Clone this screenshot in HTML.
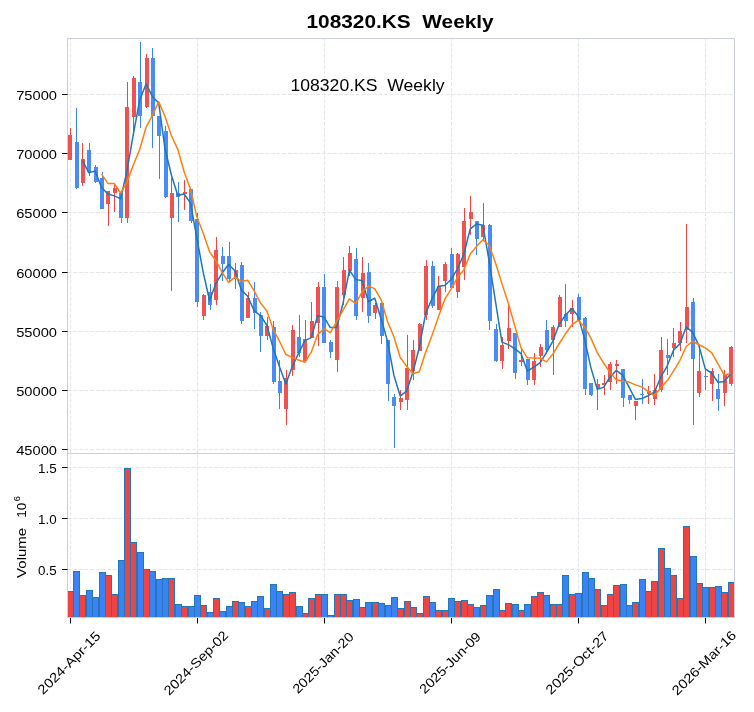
<!DOCTYPE html>
<html><head><meta charset="utf-8"><title>108320.KS Weekly</title>
<style>html,body{margin:0;padding:0;background:#fff;}body{width:754px;height:712px;overflow:hidden;font-family:"Liberation Sans",sans-serif;}</style>
</head><body>
<svg width="754" height="712" viewBox="0 0 754 712" style="display:block;will-change:transform;transform:translateZ(0)" font-family='"Liberation Sans", sans-serif'>
<rect x="0" y="0" width="754" height="712" fill="#ffffff"/>
<defs><clipPath id="cp"><rect x="67.5" y="38.5" width="667.0" height="415.0"/></clipPath><clipPath id="cv"><rect x="67.5" y="453.5" width="667.0" height="164.0"/></clipPath></defs>
<path d="M67.5 94.5H734.5 M67.5 153.5H734.5 M67.5 212.5H734.5 M67.5 272.5H734.5 M67.5 331.5H734.5 M67.5 390.5H734.5 M67.5 449.5H734.5 M67.5 467.5H734.5 M67.5 518.5H734.5 M67.5 569.5H734.5 M70.5 453.5V38.5 M70.5 617.5V453.5 M197.5 453.5V38.5 M197.5 617.5V453.5 M324.5 453.5V38.5 M324.5 617.5V453.5 M451.5 453.5V38.5 M451.5 617.5V453.5 M578.5 453.5V38.5 M578.5 617.5V453.5 M705.5 453.5V38.5 M705.5 617.5V453.5" stroke="#e2e5ea" stroke-width="1" stroke-dasharray="3.946 1.706" fill="none"/>
<g clip-path="url(#cv)" stroke="#2278b7" stroke-width="1"><rect x="67.5" y="591.5" width="6.0" height="29.0" fill="#ef4444"/><rect x="73.5" y="571.5" width="6.0" height="49.0" fill="#3b82f6"/><rect x="79.5" y="595.5" width="6.0" height="25.0" fill="#ef4444"/><rect x="86.5" y="590.5" width="6.0" height="30.0" fill="#3b82f6"/><rect x="92.5" y="597.5" width="6.0" height="23.0" fill="#3b82f6"/><rect x="99.5" y="572.5" width="6.0" height="48.0" fill="#3b82f6"/><rect x="105.5" y="575.5" width="6.0" height="45.0" fill="#ef4444"/><rect x="111.5" y="594.5" width="6.0" height="26.0" fill="#ef4444"/><rect x="118.5" y="560.5" width="6.0" height="60.0" fill="#3b82f6"/><rect x="124.5" y="468.5" width="6.0" height="152.0" fill="#ef4444"/><rect x="130.5" y="542.5" width="6.0" height="78.0" fill="#ef4444"/><rect x="137.5" y="552.5" width="6.0" height="68.0" fill="#3b82f6"/><rect x="143.5" y="569.5" width="6.0" height="51.0" fill="#ef4444"/><rect x="149.5" y="571.5" width="6.0" height="49.0" fill="#3b82f6"/><rect x="156.5" y="579.5" width="6.0" height="41.0" fill="#3b82f6"/><rect x="162.5" y="578.5" width="6.0" height="42.0" fill="#3b82f6"/><rect x="168.5" y="578.5" width="6.0" height="42.0" fill="#ef4444"/><rect x="175.5" y="604.5" width="6.0" height="16.0" fill="#3b82f6"/><rect x="181.5" y="606.5" width="6.0" height="14.0" fill="#ef4444"/><rect x="188.5" y="606.5" width="6.0" height="14.0" fill="#3b82f6"/><rect x="194.5" y="595.5" width="6.0" height="25.0" fill="#3b82f6"/><rect x="200.5" y="605.5" width="6.0" height="15.0" fill="#ef4444"/><rect x="207.5" y="612.5" width="6.0" height="8.0" fill="#3b82f6"/><rect x="213.5" y="598.5" width="6.0" height="22.0" fill="#ef4444"/><rect x="219.5" y="611.5" width="6.0" height="9.0" fill="#3b82f6"/><rect x="226.5" y="606.5" width="6.0" height="14.0" fill="#3b82f6"/><rect x="232.5" y="601.5" width="6.0" height="19.0" fill="#ef4444"/><rect x="238.5" y="602.5" width="6.0" height="18.0" fill="#3b82f6"/><rect x="245.5" y="606.5" width="6.0" height="14.0" fill="#ef4444"/><rect x="251.5" y="601.5" width="6.0" height="19.0" fill="#3b82f6"/><rect x="257.5" y="596.5" width="6.0" height="24.0" fill="#3b82f6"/><rect x="264.5" y="608.5" width="6.0" height="12.0" fill="#ef4444"/><rect x="270.5" y="584.5" width="6.0" height="36.0" fill="#3b82f6"/><rect x="276.5" y="591.5" width="6.0" height="29.0" fill="#3b82f6"/><rect x="283.5" y="594.5" width="6.0" height="26.0" fill="#ef4444"/><rect x="289.5" y="592.5" width="6.0" height="28.0" fill="#ef4444"/><rect x="296.5" y="606.5" width="6.0" height="14.0" fill="#3b82f6"/><rect x="302.5" y="613.5" width="6.0" height="7.0" fill="#ef4444"/><rect x="308.5" y="598.5" width="6.0" height="22.0" fill="#ef4444"/><rect x="315.5" y="594.5" width="6.0" height="26.0" fill="#ef4444"/><rect x="321.5" y="594.5" width="6.0" height="26.0" fill="#3b82f6"/><rect x="327.5" y="615.5" width="6.0" height="5.0" fill="#3b82f6"/><rect x="334.5" y="594.5" width="6.0" height="26.0" fill="#ef4444"/><rect x="340.5" y="594.5" width="6.0" height="26.0" fill="#ef4444"/><rect x="346.5" y="600.5" width="6.0" height="20.0" fill="#ef4444"/><rect x="353.5" y="599.5" width="6.0" height="21.0" fill="#3b82f6"/><rect x="359.5" y="607.5" width="6.0" height="13.0" fill="#ef4444"/><rect x="365.5" y="602.5" width="6.0" height="18.0" fill="#3b82f6"/><rect x="372.5" y="602.5" width="6.0" height="18.0" fill="#ef4444"/><rect x="378.5" y="603.5" width="6.0" height="17.0" fill="#3b82f6"/><rect x="385.5" y="605.5" width="6.0" height="15.0" fill="#3b82f6"/><rect x="391.5" y="597.5" width="6.0" height="23.0" fill="#3b82f6"/><rect x="397.5" y="608.5" width="6.0" height="12.0" fill="#ef4444"/><rect x="404.5" y="601.5" width="6.0" height="19.0" fill="#ef4444"/><rect x="410.5" y="607.5" width="6.0" height="13.0" fill="#ef4444"/><rect x="416.5" y="613.5" width="6.0" height="7.0" fill="#ef4444"/><rect x="423.5" y="596.5" width="6.0" height="24.0" fill="#ef4444"/><rect x="429.5" y="602.5" width="6.0" height="18.0" fill="#3b82f6"/><rect x="435.5" y="610.5" width="6.0" height="10.0" fill="#ef4444"/><rect x="442.5" y="610.5" width="6.0" height="10.0" fill="#ef4444"/><rect x="448.5" y="598.5" width="6.0" height="22.0" fill="#3b82f6"/><rect x="454.5" y="601.5" width="6.0" height="19.0" fill="#ef4444"/><rect x="461.5" y="600.5" width="6.0" height="20.0" fill="#ef4444"/><rect x="467.5" y="604.5" width="6.0" height="16.0" fill="#ef4444"/><rect x="473.5" y="607.5" width="6.0" height="13.0" fill="#3b82f6"/><rect x="480.5" y="605.5" width="6.0" height="15.0" fill="#ef4444"/><rect x="486.5" y="595.5" width="6.0" height="25.0" fill="#3b82f6"/><rect x="493.5" y="589.5" width="6.0" height="31.0" fill="#3b82f6"/><rect x="499.5" y="610.5" width="6.0" height="10.0" fill="#ef4444"/><rect x="505.5" y="603.5" width="6.0" height="17.0" fill="#ef4444"/><rect x="512.5" y="604.5" width="6.0" height="16.0" fill="#3b82f6"/><rect x="518.5" y="610.5" width="6.0" height="10.0" fill="#ef4444"/><rect x="524.5" y="604.5" width="6.0" height="16.0" fill="#3b82f6"/><rect x="531.5" y="596.5" width="6.0" height="24.0" fill="#ef4444"/><rect x="537.5" y="592.5" width="6.0" height="28.0" fill="#ef4444"/><rect x="543.5" y="595.5" width="6.0" height="25.0" fill="#3b82f6"/><rect x="550.5" y="604.5" width="6.0" height="16.0" fill="#ef4444"/><rect x="556.5" y="604.5" width="6.0" height="16.0" fill="#ef4444"/><rect x="562.5" y="575.5" width="6.0" height="45.0" fill="#3b82f6"/><rect x="569.5" y="594.5" width="6.0" height="26.0" fill="#ef4444"/><rect x="575.5" y="593.5" width="6.0" height="27.0" fill="#3b82f6"/><rect x="582.5" y="572.5" width="6.0" height="48.0" fill="#3b82f6"/><rect x="588.5" y="578.5" width="6.0" height="42.0" fill="#3b82f6"/><rect x="594.5" y="589.5" width="6.0" height="31.0" fill="#ef4444"/><rect x="601.5" y="605.5" width="6.0" height="15.0" fill="#ef4444"/><rect x="607.5" y="594.5" width="6.0" height="26.0" fill="#ef4444"/><rect x="613.5" y="585.5" width="6.0" height="35.0" fill="#ef4444"/><rect x="620.5" y="584.5" width="6.0" height="36.0" fill="#3b82f6"/><rect x="626.5" y="605.5" width="6.0" height="15.0" fill="#3b82f6"/><rect x="632.5" y="602.5" width="6.0" height="18.0" fill="#ef4444"/><rect x="639.5" y="579.5" width="6.0" height="41.0" fill="#3b82f6"/><rect x="645.5" y="591.5" width="6.0" height="29.0" fill="#ef4444"/><rect x="651.5" y="581.5" width="6.0" height="39.0" fill="#ef4444"/><rect x="658.5" y="548.5" width="6.0" height="72.0" fill="#ef4444"/><rect x="664.5" y="568.5" width="6.0" height="52.0" fill="#3b82f6"/><rect x="670.5" y="575.5" width="6.0" height="45.0" fill="#ef4444"/><rect x="677.5" y="598.5" width="6.0" height="22.0" fill="#ef4444"/><rect x="683.5" y="526.5" width="6.0" height="94.0" fill="#ef4444"/><rect x="690.5" y="556.5" width="6.0" height="64.0" fill="#3b82f6"/><rect x="696.5" y="583.5" width="6.0" height="37.0" fill="#ef4444"/><rect x="702.5" y="587.5" width="6.0" height="33.0" fill="#3b82f6"/><rect x="709.5" y="587.5" width="6.0" height="33.0" fill="#ef4444"/><rect x="715.5" y="586.5" width="6.0" height="34.0" fill="#3b82f6"/><rect x="721.5" y="592.5" width="6.0" height="28.0" fill="#ef4444"/><rect x="728.5" y="582.5" width="6.0" height="38.0" fill="#ef4444"/></g>
<g clip-path="url(#cp)">
<path d="M70.5 128V160 M82.5 143V186 M108.5 191V226 M114.5 185V212 M127.5 82V223 M133.5 76V136 M146.5 54V108 M171.5 178V291 M184.5 180V210 M203.5 294V320 M216.5 237V305 M235.5 263V289 M248.5 292V318 M267.5 317V340 M286.5 370V425 M292.5 325V376 M305.5 320V361 M311.5 302V338 M318.5 282V346 M337.5 281V372 M343.5 257V305 M349.5 246V276 M362.5 257V312 M375.5 303V319 M400.5 390V410 M407.5 335V410 M413.5 340V380 M419.5 323V351 M426.5 260V320 M438.5 276V310 M445.5 262V292 M457.5 253V298 M464.5 208V280 M470.5 196V235 M483.5 203V240 M502.5 337V369 M508.5 304V349 M521.5 349V366 M534.5 353V385 M540.5 344V367 M553.5 325V375 M559.5 295V327 M572.5 300V327 M597.5 379V410 M604.5 375V395 M610.5 362V390 M616.5 360V384 M635.5 401V420 M648.5 386V404 M654.5 374V405 M661.5 337V392 M673.5 328V357 M680.5 322V351 M686.5 224V343 M699.5 346V397 M712.5 368V401 M724.5 370V406 M731.5 346V386" stroke="#ef4444" stroke-width="1" fill="none"/>
<path d="M76.5 108V189 M89.5 143V176 M95.5 165V183 M102.5 172V209 M121.5 193V223 M140.5 42V128 M152.5 48V148 M159.5 116V179 M165.5 126V198 M178.5 182V222 M191.5 189V223 M197.5 213V307 M210.5 284V310 M222.5 247V281 M229.5 242V282 M241.5 262V324 M254.5 282V329 M260.5 312V352 M273.5 321V384 M279.5 360V409 M299.5 315V357 M324.5 274V343 M330.5 340V358 M356.5 248V320 M368.5 263V323 M381.5 303V344 M388.5 340V401 M394.5 394V448 M432.5 261V308 M451.5 248V288 M476.5 221V255 M489.5 224V330 M496.5 324V362 M515.5 333V379 M527.5 359V385 M546.5 320V354 M565.5 284V327 M578.5 294V320 M585.5 317V395 M591.5 383V396 M623.5 369V407 M629.5 395V404 M642.5 379V404 M667.5 339V375 M693.5 298V425 M705.5 368V390 M718.5 374V411" stroke="#3b82f6" stroke-width="1" fill="none"/>
<g fill="#f05151"><rect x="68" y="135" width="4" height="25"/><rect x="81" y="159" width="4" height="24"/><rect x="106" y="191" width="4" height="13"/><rect x="113" y="188" width="4" height="5"/><rect x="125" y="107" width="4" height="111"/><rect x="132" y="78" width="4" height="39"/><rect x="145" y="58" width="4" height="49"/><rect x="170" y="193" width="4" height="25"/><rect x="183" y="192" width="4" height="2"/><rect x="202" y="295" width="4" height="21"/><rect x="214" y="250" width="4" height="50"/><rect x="234" y="270" width="4" height="7"/><rect x="246" y="298" width="4" height="20"/><rect x="265" y="326" width="4" height="10"/><rect x="284" y="378" width="4" height="31"/><rect x="291" y="330" width="4" height="40"/><rect x="303" y="339" width="4" height="22"/><rect x="310" y="321" width="4" height="17"/><rect x="316" y="287" width="4" height="36"/><rect x="335" y="287" width="4" height="73"/><rect x="342" y="270" width="4" height="25"/><rect x="348" y="253" width="4" height="18"/><rect x="361" y="273" width="4" height="25"/><rect x="373" y="305" width="4" height="8"/><rect x="399" y="398" width="4" height="4"/><rect x="405" y="368" width="4" height="32"/><rect x="411" y="350" width="4" height="21"/><rect x="418" y="324" width="4" height="27"/><rect x="424" y="266" width="4" height="49"/><rect x="437" y="286" width="4" height="24"/><rect x="443" y="264" width="4" height="17"/><rect x="456" y="254" width="4" height="38"/><rect x="462" y="221" width="4" height="46"/><rect x="469" y="212" width="4" height="7"/><rect x="481" y="225" width="4" height="12"/><rect x="500" y="345" width="4" height="16"/><rect x="507" y="328" width="4" height="13"/><rect x="519" y="360" width="4" height="2"/><rect x="532" y="361" width="4" height="19"/><rect x="539" y="347" width="4" height="9"/><rect x="551" y="327" width="4" height="13"/><rect x="558" y="297" width="4" height="30"/><rect x="570" y="308" width="4" height="6"/><rect x="596" y="384" width="4" height="4"/><rect x="602" y="383" width="4" height="2"/><rect x="608" y="364" width="4" height="18"/><rect x="615" y="364" width="4" height="2"/><rect x="634" y="401" width="4" height="5"/><rect x="647" y="391" width="4" height="3"/><rect x="653" y="390" width="4" height="9"/><rect x="659" y="350" width="4" height="40"/><rect x="672" y="343" width="4" height="5"/><rect x="678" y="331" width="4" height="12"/><rect x="685" y="307" width="4" height="23"/><rect x="697" y="371" width="4" height="22"/><rect x="710" y="371" width="4" height="13"/><rect x="723" y="375" width="4" height="18"/><rect x="729" y="347" width="4" height="37"/></g>
<g fill="#498bf7"><rect x="75" y="142" width="4" height="46"/><rect x="87" y="150" width="4" height="22"/><rect x="94" y="167" width="4" height="15"/><rect x="100" y="178" width="4" height="31"/><rect x="119" y="193" width="4" height="25"/><rect x="138" y="82" width="4" height="34"/><rect x="151" y="58" width="4" height="58"/><rect x="157" y="116" width="4" height="20"/><rect x="164" y="131" width="4" height="66"/><rect x="176" y="193" width="4" height="4"/><rect x="189" y="189" width="4" height="32"/><rect x="195" y="219" width="4" height="83"/><rect x="208" y="292" width="4" height="13"/><rect x="221" y="256" width="4" height="8"/><rect x="227" y="256" width="4" height="23"/><rect x="240" y="265" width="4" height="56"/><rect x="253" y="298" width="4" height="15"/><rect x="259" y="315" width="4" height="21"/><rect x="272" y="327" width="4" height="55"/><rect x="278" y="381" width="4" height="12"/><rect x="297" y="337" width="4" height="16"/><rect x="322" y="287" width="4" height="56"/><rect x="329" y="342" width="4" height="10"/><rect x="354" y="259" width="4" height="57"/><rect x="367" y="272" width="4" height="44"/><rect x="380" y="303" width="4" height="33"/><rect x="386" y="340" width="4" height="44"/><rect x="392" y="397" width="4" height="9"/><rect x="431" y="266" width="4" height="40"/><rect x="450" y="254" width="4" height="34"/><rect x="475" y="221" width="4" height="18"/><rect x="488" y="225" width="4" height="96"/><rect x="494" y="329" width="4" height="32"/><rect x="513" y="333" width="4" height="40"/><rect x="526" y="359" width="4" height="21"/><rect x="545" y="330" width="4" height="20"/><rect x="564" y="314" width="4" height="7"/><rect x="577" y="297" width="4" height="23"/><rect x="583" y="318" width="4" height="71"/><rect x="589" y="383" width="4" height="12"/><rect x="621" y="369" width="4" height="29"/><rect x="628" y="395" width="4" height="5"/><rect x="640" y="394" width="4" height="1"/><rect x="666" y="355" width="4" height="3"/><rect x="691" y="302" width="4" height="57"/><rect x="704" y="376" width="4" height="1"/><rect x="716" y="389" width="4" height="10"/></g>
<path d="M82.48 160.57 L88.83 172.77 L95.19 171.10 L101.55 187.57 L107.90 194.03 L114.25 195.87 L120.61 198.90 L126.97 170.93 L133.32 134.30 L139.68 100.23 L146.03 83.93 L152.38 96.40 L158.74 103.13 L165.09 149.30 L171.45 175.20 L177.81 195.53 L184.16 194.03 L190.51 203.17 L196.87 238.17 L203.23 272.47 L209.58 300.47 L215.94 283.27 L222.29 272.77 L228.64 264.27 L235.00 270.97 L241.36 290.03 L247.71 296.33 L254.06 310.47 L260.42 315.70 L266.78 325.00 L273.13 348.00 L279.49 366.73 L285.84 383.93 L292.19 366.77 L298.55 353.40 L304.91 340.63 L311.26 337.60 L317.62 315.80 L323.97 317.07 L330.32 327.53 L336.68 327.53 L343.04 303.23 L349.39 270.13 L355.75 279.63 L362.10 280.60 L368.45 301.73 L374.81 298.17 L381.17 319.00 L387.52 341.33 L393.88 375.17 L400.23 396.07 L406.58 391.00 L412.94 372.23 L419.30 347.47 L425.65 313.37 L432.00 298.80 L438.36 286.30 L444.72 285.57 L451.07 279.53 L457.43 268.77 L463.78 254.53 L470.13 229.07 L476.49 223.97 L482.85 225.17 L489.20 261.40 L495.56 302.00 L501.91 342.13 L508.26 344.60 L514.62 348.63 L520.98 353.63 L527.33 371.10 L533.69 367.20 L540.04 362.90 L546.40 352.67 L552.75 341.33 L559.11 324.60 L565.46 314.93 L571.82 308.60 L578.17 316.10 L584.52 338.70 L590.88 367.60 L597.24 389.20 L603.59 387.37 L609.95 377.17 L616.30 370.37 L622.65 375.20 L629.01 387.03 L635.37 399.43 L641.72 398.57 L648.08 395.70 L654.43 392.13 L660.78 377.17 L667.14 366.03 L673.50 350.23 L679.85 343.87 L686.21 327.00 L692.56 332.20 L698.92 345.57 L705.27 368.90 L711.62 373.07 L717.98 382.27 L724.34 381.53 L730.69 373.60" stroke="#1f77b4" stroke-width="1.5" fill="none" stroke-linejoin="round" stroke-linecap="butt"/>
<path d="M101.55 174.07 L107.90 183.40 L114.25 183.48 L120.61 193.23 L126.97 182.48 L133.32 165.08 L139.68 149.57 L146.03 127.43 L152.38 115.35 L158.74 101.68 L165.09 116.62 L171.45 135.80 L177.81 149.33 L184.16 171.67 L190.51 189.18 L196.87 216.85 L203.23 233.25 L209.58 251.82 L215.94 260.72 L222.29 272.62 L228.64 282.37 L235.00 277.12 L241.36 281.40 L247.71 280.30 L254.06 290.72 L260.42 302.87 L266.78 310.67 L273.13 329.23 L279.49 341.22 L285.84 354.47 L292.19 357.38 L298.55 360.07 L304.91 362.28 L311.26 352.18 L317.62 334.60 L323.97 328.85 L330.32 332.57 L336.68 321.67 L343.04 310.15 L349.39 298.83 L355.75 303.58 L362.10 291.92 L368.45 285.93 L374.81 288.90 L381.17 299.80 L387.52 321.53 L393.88 336.67 L400.23 357.53 L406.58 366.17 L412.94 373.70 L419.30 371.77 L425.65 352.18 L432.00 335.52 L438.36 316.88 L444.72 299.47 L451.07 289.17 L457.43 277.53 L463.78 270.05 L470.13 254.30 L476.49 246.37 L482.85 239.85 L489.20 245.23 L495.56 262.98 L501.91 283.65 L508.26 303.00 L514.62 325.32 L520.98 347.88 L527.33 357.85 L533.69 357.92 L540.04 358.27 L546.40 361.88 L552.75 354.27 L559.11 343.75 L565.46 333.80 L571.82 324.97 L578.17 320.35 L584.52 326.82 L590.88 338.10 L597.24 352.65 L603.59 363.03 L609.95 372.38 L616.30 379.78 L622.65 381.28 L629.01 382.10 L635.37 384.90 L641.72 386.88 L648.08 391.37 L654.43 395.78 L660.78 387.87 L667.14 380.87 L673.50 371.18 L679.85 360.52 L686.21 346.52 L692.56 341.22 L698.92 344.72 L705.27 347.95 L711.62 352.63 L717.98 363.92 L724.34 375.22 L730.69 373.33" stroke="#ff7f0e" stroke-width="1.5" fill="none" stroke-linejoin="round" stroke-linecap="butt"/>
</g>
<path d="M67.5 38.5H734.5V617.5H67.5Z M67.5 453.5H734.5" stroke="#cbcfd8" stroke-width="1" fill="none"/>
<path d="M62 94.5H67.5 M62 153.5H67.5 M62 212.5H67.5 M62 272.5H67.5 M62 331.5H67.5 M62 390.5H67.5 M62 449.5H67.5 M62 467.5H67.5 M62 518.5H67.5 M62 569.5H67.5 M70.5 618V623.5 M197.5 618V623.5 M324.5 618V623.5 M451.5 618V623.5 M578.5 618V623.5 M705.5 618V623.5" stroke="#000" stroke-width="1" fill="none"/>
<text x="57.0" y="100.0" font-size="13.0" text-anchor="end" font-weight="normal" fill="#000" textLength="40.8" lengthAdjust="spacingAndGlyphs">75000</text>
<text x="57.0" y="159.0" font-size="13.0" text-anchor="end" font-weight="normal" fill="#000" textLength="40.8" lengthAdjust="spacingAndGlyphs">70000</text>
<text x="57.0" y="218.0" font-size="13.0" text-anchor="end" font-weight="normal" fill="#000" textLength="40.8" lengthAdjust="spacingAndGlyphs">65000</text>
<text x="57.0" y="278.0" font-size="13.0" text-anchor="end" font-weight="normal" fill="#000" textLength="40.8" lengthAdjust="spacingAndGlyphs">60000</text>
<text x="57.0" y="337.0" font-size="13.0" text-anchor="end" font-weight="normal" fill="#000" textLength="40.8" lengthAdjust="spacingAndGlyphs">55000</text>
<text x="57.0" y="396.0" font-size="13.0" text-anchor="end" font-weight="normal" fill="#000" textLength="40.8" lengthAdjust="spacingAndGlyphs">50000</text>
<text x="57.0" y="455.0" font-size="13.0" text-anchor="end" font-weight="normal" fill="#000" textLength="40.8" lengthAdjust="spacingAndGlyphs">45000</text>
<text x="56.6" y="473.0" font-size="13.0" text-anchor="end" font-weight="normal" fill="#000" textLength="18.6" lengthAdjust="spacingAndGlyphs">1.5</text>
<text x="56.6" y="524.0" font-size="13.0" text-anchor="end" font-weight="normal" fill="#000" textLength="18.6" lengthAdjust="spacingAndGlyphs">1.0</text>
<text x="56.6" y="575.0" font-size="13.0" text-anchor="end" font-weight="normal" fill="#000" textLength="18.6" lengthAdjust="spacingAndGlyphs">0.5</text>
<text transform="translate(68.90 662.7) rotate(-45)" x="0" y="4.7" font-size="13.2" text-anchor="middle" textLength="82.5" lengthAdjust="spacingAndGlyphs" fill="#000">2024-Apr-15</text>
<text transform="translate(195.90 662.7) rotate(-45)" x="0" y="4.7" font-size="13.2" text-anchor="middle" textLength="84.5" lengthAdjust="spacingAndGlyphs" fill="#000">2024-Sep-02</text>
<text transform="translate(322.90 662.7) rotate(-45)" x="0" y="4.7" font-size="13.2" text-anchor="middle" textLength="80.1" lengthAdjust="spacingAndGlyphs" fill="#000">2025-Jan-20</text>
<text transform="translate(449.90 662.7) rotate(-45)" x="0" y="4.7" font-size="13.2" text-anchor="middle" textLength="80.4" lengthAdjust="spacingAndGlyphs" fill="#000">2025-Jun-09</text>
<text transform="translate(576.90 662.7) rotate(-45)" x="0" y="4.7" font-size="13.2" text-anchor="middle" textLength="82.5" lengthAdjust="spacingAndGlyphs" fill="#000">2025-Oct-27</text>
<text transform="translate(703.90 662.7) rotate(-45)" x="0" y="4.7" font-size="13.2" text-anchor="middle" textLength="84.6" lengthAdjust="spacingAndGlyphs" fill="#000">2026-Mar-16</text>
<text transform="translate(25.6 577.9) rotate(-90)" font-size="13" textLength="50.1" lengthAdjust="spacingAndGlyphs" fill="#000">Volume</text>
<text transform="translate(25.6 517.7) rotate(-90)" font-size="13" textLength="15" lengthAdjust="spacingAndGlyphs" fill="#000">10</text>
<text transform="translate(20.1 501.2) rotate(-90)" font-size="9.8" textLength="5.1" lengthAdjust="spacingAndGlyphs" fill="#000">6</text>
<text x="306.5" y="27.6" font-size="18" font-weight="bold" text-anchor="start" textLength="187.2" lengthAdjust="spacingAndGlyphs" fill="#000" xml:space="preserve">108320.KS  Weekly</text>
<text x="290.5" y="91.1" font-size="16.5" text-anchor="start" textLength="154.1" lengthAdjust="spacingAndGlyphs" fill="#000" xml:space="preserve">108320.KS  Weekly</text>
</svg>
</body></html>
